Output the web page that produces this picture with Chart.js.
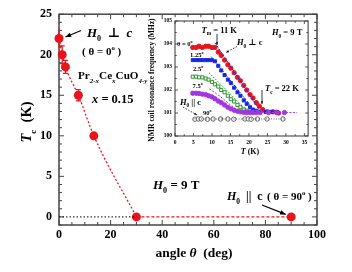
<!DOCTYPE html>
<html>
<head>
<meta charset="utf-8">
<script src="https://cdn.jsdelivr.net/npm/chart.js@4.4.1/dist/chart.umd.min.js"></script>
<style>
html, body { margin: 0; padding: 0; background: #fff; }
#wrap { position: relative; width: 352px; height: 272px; }
#main { position: absolute; left: 0; top: 0; }
#inset { position: absolute; left: 160px; top: 12px; }
</style>
</head>
<body>
<div id="wrap">
<canvas id="main" width="352" height="272"></canvas>
<canvas id="inset" width="153" height="150"></canvas>
</div>
<script>
// main panel: Tc vs field angle
const angleDeg = [0, 1.25, 2.5, 7.5, 13.5, 30, 90];
const tcK = [22, 20, 18.5, 15, 10, 0, 0];
const tcErr = [1.2, 1.1, 0.8, 0.7, 0.35, 0, 0];

// inset: NMR coil frequency vs T
const tRed = [4.8, 5.7, 6.5, 7.4, 8.3, 9.1, 10.0, 10.8, 11.7, 12.5, 13.4, 14.3, 15.1, 16.0, 16.9, 17.7, 18.6, 19.4, 20.3, 21.1, 22.0, 22.8, 23.7, 25.0, 26.5, 28.0];
const fRed = [103.85, 103.85, 103.9, 103.85, 103.9, 103.9, 103.85, 103.85, 103.65, 103.5, 103.3, 103.1, 102.95, 102.75, 102.55, 102.4, 102.2, 102.0, 101.8, 101.65, 101.45, 101.3, 101.15, 101.05, 101.05, 101.0];
const tBlue = [4.8, 5.7, 6.5, 7.4, 8.3, 9.1, 10.0, 10.8, 11.7, 12.5, 13.4, 14.3, 15.1, 16.0, 16.9, 17.7, 18.6, 19.4, 20.3, 21.1, 22.0, 23.0, 24.5, 26.0, 27.5];
const fBlue = [103.3, 103.3, 103.3, 103.3, 103.3, 103.3, 103.3, 103.25, 103.05, 102.85, 102.65, 102.45, 102.3, 102.1, 101.9, 101.75, 101.55, 101.4, 101.25, 101.15, 101.1, 101.05, 101.05, 101.05, 101.05];
const tGreen = [4.8, 5.7, 6.5, 7.4, 8.3, 9.1, 10.0, 10.8, 11.7, 12.5, 13.4, 14.3, 15.1, 16.0, 16.9, 17.7, 18.6, 19.4, 20.3, 21.1, 22.0, 23.0];
const fGreen = [102.58, 102.58, 102.55, 102.55, 102.5, 102.45, 102.35, 102.25, 102.15, 102.0, 101.9, 101.75, 101.6, 101.5, 101.35, 101.25, 101.15, 101.1, 101.05, 101.05, 101.05, 101.05];
const tPurple = [4.8, 5.7, 6.5, 7.4, 8.3, 9.1, 10.0, 10.8, 11.7, 12.5, 13.4, 14.3, 15.1, 16.0, 16.9, 17.7, 18.6, 19.4, 20.3, 21.1, 22.0, 23.0, 25.3, 27.5, 29.6];
const fPurple = [101.86, 101.86, 101.85, 101.82, 101.8, 101.75, 101.7, 101.62, 101.52, 101.45, 101.35, 101.25, 101.18, 101.12, 101.08, 101.05, 101.03, 101.02, 101.02, 101.02, 101.02, 101.02, 101.02, 101.02, 101.02];
const tGray = [5.4, 6.3, 7.1, 8.8, 10.3, 12.3, 14.3, 15.9, 18.9, 19.8, 20.6, 22.3, 24.9, 29.2];
const fGray = [100.73, 100.74, 100.74, 100.73, 100.74, 100.74, 100.74, 100.73, 100.74, 100.74, 100.73, 100.74, 100.74, 100.74];

// guide lines in the inset
const guideRedT = [10.8, 23.2], guideRedF = [104.05, 101.05];
const guideBlueT = [9.8, 21.8], guideBlueF = [103.45, 101.05];
const guideGreenT = [9.2, 19.8], guideGreenF = [102.75, 101.05];
const guidePurpleT = [9.3, 12, 15, 17, 18.5, 20, 33], guidePurpleF = [102.05, 101.75, 101.35, 101.12, 101.05, 101.02, 101.02];
const guideGrayT = [5, 30], guideGrayF = [100.74, 100.74];

const FAM = '"Liberation Serif", "DejaVu Serif", serif';
const RED = '#e8141c', BLUE = '#1428e0', GREEN = '#1a8c1a', PURPLE = '#a236e0', GRAY = '#555';

const pts = (xs, ys) => xs.map((v, i) => ({ x: v, y: ys[i] }));

function richWidth(ctx, parts, size) {
  let w = 0;
  for (const p of parts) {
    const s = (p.sub || p.sup) ? size * 0.62 : size;
    ctx.font = (p.it ? 'italic ' : '') + 'bold ' + s + 'px ' + FAM;
    w += ctx.measureText(p.t).width;
  }
  return w;
}
function richText(ctx, x, y, parts, size, center) {
  ctx.textAlign = 'left';
  ctx.textBaseline = 'alphabetic';
  ctx.fillStyle = '#000';
  let cx = center ? x - richWidth(ctx, parts, size) / 2 : x;
  for (const p of parts) {
    const s = (p.sub || p.sup) ? size * 0.62 : size;
    ctx.font = (p.it ? 'italic ' : '') + 'bold ' + s + 'px ' + FAM;
    const dy = p.sub ? size * 0.32 : p.sup ? -size * 0.42 : 0;
    ctx.fillText(p.t, cx, y + dy);
    cx += ctx.measureText(p.t).width;
  }
}
function arrow(ctx, x1, y1, x2, y2, head, dash, lw) {
  ctx.save();
  ctx.strokeStyle = '#000';
  ctx.fillStyle = '#000';
  ctx.lineWidth = lw;
  ctx.setLineDash(dash || []);
  ctx.beginPath();
  ctx.moveTo(x1, y1);
  ctx.lineTo(x2, y2);
  ctx.stroke();
  ctx.setLineDash([]);
  const a = Math.atan2(y2 - y1, x2 - x1);
  ctx.beginPath();
  ctx.moveTo(x2, y2);
  ctx.lineTo(x2 - head * Math.cos(a - 0.38), y2 - head * Math.sin(a - 0.38));
  ctx.lineTo(x2 - head * Math.cos(a + 0.38), y2 - head * Math.sin(a + 0.38));
  ctx.closePath();
  ctx.fill();
  ctx.restore();
}
function drawFrame(chart, o) {
  const { ctx, chartArea: a, scales: { x, y } } = chart;
  ctx.save();
  ctx.strokeStyle = o.color;
  ctx.lineWidth = o.lw;
  ctx.strokeRect(a.left, a.top, a.right - a.left, a.bottom - a.top);
  ctx.lineWidth = o.tw;
  ctx.beginPath();
  const n1 = Math.ceil(x.min / o.xMinor - 1e-9), n2 = Math.floor(x.max / o.xMinor + 1e-9);
  for (let i = n1; i <= n2; i++) {
    const v = i * o.xMinor;
    const major = Math.abs(v / o.xMajor - Math.round(v / o.xMajor)) < 1e-6;
    const L = major ? o.major : o.minor;
    const px = x.getPixelForValue(v);
    ctx.moveTo(px, a.bottom); ctx.lineTo(px, a.bottom - L);
    ctx.moveTo(px, a.top); ctx.lineTo(px, a.top + L);
  }
  const m1 = Math.ceil(y.min / o.yMinor - 1e-9), m2 = Math.floor(y.max / o.yMinor + 1e-9);
  for (let i = m1; i <= m2; i++) {
    const v = i * o.yMinor;
    const major = Math.abs(v / o.yMajor - Math.round(v / o.yMajor)) < 1e-6;
    const L = major ? o.major : o.minor;
    const py = y.getPixelForValue(v);
    ctx.moveTo(a.left, py); ctx.lineTo(a.left + L, py);
    ctx.moveTo(a.right, py); ctx.lineTo(a.right - L, py);
  }
  ctx.stroke();
  ctx.restore();
}

// ---------- main chart ----------
const mainPlugin = {
  id: 'mainDeco',
  beforeDatasetsDraw(chart) {
    drawFrame(chart, { color: '#444', lw: 1.5, tw: 1, xMajor: 20, xMinor: 5, yMajor: 5, yMinor: 1, major: 5, minor: 3 });
    const { ctx, scales: { x, y } } = chart;
    ctx.save();
    ctx.strokeStyle = RED;
    ctx.lineWidth = 1.2;
    ctx.beginPath();
    angleDeg.forEach((a, i) => {
      if (!tcErr[i]) return;
      const px = x.getPixelForValue(a);
      const y1 = y.getPixelForValue(tcK[i] + tcErr[i]), y2 = y.getPixelForValue(tcK[i] - tcErr[i]);
      ctx.moveTo(px, y1); ctx.lineTo(px, y2);
      if (i > 0) {
        ctx.moveTo(px - 2.5, y1); ctx.lineTo(px + 2.5, y1);
        ctx.moveTo(px - 2.5, y2); ctx.lineTo(px + 2.5, y2);
      }
    });
    ctx.stroke();
    ctx.restore();
  },
  afterDraw(chart) {
    const { ctx, scales: { x, y } } = chart;
    // axis titles
    richText(ctx, 194, 257, [{ t: 'angle ' }, { t: 'θ', it: true }, { t: '  (deg)' }], 13.5, true);
    ctx.save();
    ctx.translate(31, 122);
    ctx.rotate(-Math.PI / 2);
    richText(ctx, 0, 0, [{ t: 'T', it: true }, { t: 'c', sub: true }, { t: '  (K)' }], 14.5, true);
    ctx.restore();
    // inset y title sits left of the inset canvas
    ctx.save();
    ctx.translate(154, 80);
    ctx.rotate(-Math.PI / 2);
    richText(ctx, 0, 0, [{ t: 'NMR coil resonance frequency (MHz)' }], 7.6, true);
    ctx.restore();

    // annotations
    arrow(ctx, 81, 30.5, x.getPixelForValue(angleDeg[0]) + 6.5, y.getPixelForValue(tcK[0]) - 1.5, 6, null, 1.2);
    richText(ctx, 87, 37, [{ t: 'H', it: true }, { t: '0', sub: true }, { t: '  ⊥  ' }, { t: 'c', it: true }], 13);
    richText(ctx, 82, 55, [{ t: '( θ = 0' }, { t: 'o', sup: true }, { t: ' )' }], 11);
    richText(ctx, 78, 79, [{ t: 'Pr' }, { t: '2-x', sub: true, it: true }, { t: 'Ce' }, { t: 'x', sub: true, it: true }, { t: 'CuO' }, { t: '4-y', sub: true, it: true }], 11.2);
    richText(ctx, 92, 103, [{ t: 'x', it: true }, { t: ' = 0.15' }], 12.5);
    richText(ctx, 153, 189, [{ t: 'H', it: true }, { t: '0', sub: true }, { t: ' = 9 T' }], 13);
    richText(ctx, 227, 200, [{ t: 'H', it: true }, { t: '0', sub: true }, { t: '  ||  c' }], 12);
    richText(ctx, 267, 200, [{ t: '( θ = 90' }, { t: 'o', sup: true }, { t: ' )' }], 11);
    arrow(ctx, 262, 205, x.getPixelForValue(angleDeg[6]) - 5.5, y.getPixelForValue(tcK[6]) - 2.5, 6, null, 1.2);
  }
};

new Chart(document.getElementById('main'), {
  type: 'scatter',
  data: {
    datasets: [
      { data: pts(angleDeg.slice(0, 6), tcK.slice(0, 6)), showLine: true, cubicInterpolationMode: 'monotone',
        borderColor: RED, borderWidth: 1.3, borderDash: [2, 2], pointRadius: 0, clip: false },
      { data: pts(angleDeg.slice(5), tcK.slice(5)), showLine: true, borderColor: RED, borderWidth: 1.3,
        borderDash: [3, 2], pointRadius: 0, clip: false },
      { data: pts([angleDeg[0], angleDeg[5]], [tcK[5], tcK[5]]), showLine: true, borderColor: '#000', borderWidth: 1,
        borderDash: [1.5, 2], pointRadius: 0, clip: false },
      { data: pts(angleDeg, tcK), showLine: false, pointRadius: 4.5, backgroundColor: RED, borderColor: RED, borderWidth: 0, clip: false }
    ]
  },
  options: {
    responsive: false,
    animation: false,
    events: [],
    plugins: { legend: { display: false }, tooltip: { enabled: false } },
    layout: { padding: { left: 0, top: 12, right: 35, bottom: 0 } },
    scales: {
      x: {
        type: 'linear', min: 0, max: 100,
        grid: { display: false, drawTicks: false }, border: { display: false },
        ticks: { stepSize: 20, autoSkip: false, maxRotation: 0, padding: 3, color: '#000', font: { family: FAM, size: 12, weight: 'bold' } },
        afterFit(s) { s.height = 47; }
      },
      y: {
        type: 'linear', min: -1, max: 25,
        grid: { display: false, drawTicks: false }, border: { display: false },
        ticks: { stepSize: 5, includeBounds: false, padding: 7, color: '#000', font: { family: FAM, size: 12, weight: 'bold' } },
        afterFit(s) { s.width = 59; }
      }
    }
  },
  plugins: [mainPlugin]
});

// ---------- inset ----------
const OX = 160, OY = 12;
const insetPlugin = {
  id: 'insetDeco',
  beforeDatasetsDraw(chart) {
    drawFrame(chart, { color: '#333', lw: 1, tw: 0.8, xMajor: 5, xMinor: 2.5, yMajor: 1, yMinor: 0.5, major: 3, minor: 1.8 });
  },
  afterDraw(chart) {
    const { ctx } = chart;
    ctx.save();
    ctx.translate(-OX, -OY);
    richText(ctx, 250, 154, [{ t: 'T', it: true }, { t: ' (K)' }], 8, true);
    richText(ctx, 201.5, 32.5, [{ t: 'T', it: true }, { t: 'm', sub: true }, { t: ' = 11 K' }], 8.5);
    arrow(ctx, 217, 34, 217, 45, 3, null, 0.8);
    richText(ctx, 177, 45.5, [{ t: 'θ = 0' }, { t: 'o', sup: true }], 6.5);
    richText(ctx, 190, 57, [{ t: '1.25' }, { t: 'o', sup: true }], 6.5);
    richText(ctx, 193, 70.5, [{ t: '2.5' }, { t: 'o', sup: true }], 6.5);
    richText(ctx, 192.5, 88, [{ t: '7.5' }, { t: 'o', sup: true }], 6.5);
    richText(ctx, 180, 104.5, [{ t: 'H', it: true }, { t: '0', sub: true }, { t: ' || c' }], 8.5);
    arrow(ctx, 183, 107, 197, 115, 3, [1.5, 1.5], 0.8);
    richText(ctx, 203, 114.5, [{ t: '90' }, { t: 'o', sup: true }], 6.5);
    richText(ctx, 237, 45, [{ t: 'H', it: true }, { t: '0', sub: true }, { t: ' ⊥ c' }], 8.5);
    arrow(ctx, 237, 46.5, 226, 52.5, 3, [1.5, 1.5], 0.8);
    richText(ctx, 272, 35, [{ t: 'H', it: true }, { t: '0', sub: true }, { t: ' = 9 T' }], 8.5);
    richText(ctx, 265, 91, [{ t: 'T', it: true }, { t: 'c', sub: true }, { t: ' = 22 K' }], 8.5);
    arrow(ctx, 262, 90, 262, 104, 3, null, 0.8);
    ctx.restore();
  }
};

const guide = (xs, ys, color, dash) => ({ data: pts(xs, ys), showLine: true, borderColor: color, borderWidth: 1,
  borderDash: dash, pointRadius: 0, clip: false });
const series = (xs, ys, color, style, fill) => ({ data: pts(xs, ys), showLine: false, pointStyle: style,
  pointRadius: 2.2, backgroundColor: fill, borderColor: color, borderWidth: 0.9, clip: false });

new Chart(document.getElementById('inset'), {
  type: 'scatter',
  data: {
    datasets: [
      guide(guideRedT, guideRedF, BLUE, [2, 1.5]),
      guide(guideBlueT, guideBlueF, BLUE, [1.5, 1.5]),
      guide(guideGreenT, guideGreenF, GREEN, [1.5, 1.5]),
      guide(guidePurpleT, guidePurpleF, PURPLE, [2, 1.5]),
      guide(guideGrayT, guideGrayF, '#666', [1, 1.5]),
      series(tGray, fGray, GRAY, 'circle', '#fff'),
      series(tPurple, fPurple, PURPLE, 'circle', PURPLE),
      series(tGreen, fGreen, GREEN, 'rect', '#fff'),
      series(tBlue, fBlue, BLUE, 'rect', BLUE),
      series(tRed, fRed, RED, 'circle', RED)
    ]
  },
  options: {
    responsive: false,
    animation: false,
    events: [],
    plugins: { legend: { display: false }, tooltip: { enabled: false } },
    layout: { padding: { left: 0, top: 9, right: 2, bottom: 0 } },
    scales: {
      x: {
        type: 'linear', min: 0, max: 36,
        grid: { display: false, drawTicks: false }, border: { display: false },
        ticks: { stepSize: 5, includeBounds: false, autoSkip: false, maxRotation: 0, padding: 3, color: '#000', font: { family: FAM, size: 5.5, weight: 'bold' } },
        afterFit(s) { s.height = 26; }
      },
      y: {
        type: 'linear', min: 100, max: 105,
        grid: { display: false, drawTicks: false }, border: { display: false },
        ticks: { stepSize: 1, autoSkip: false, padding: 3, color: '#000', font: { family: FAM, size: 5.5, weight: 'bold' } },
        afterFit(s) { s.width = 15; }
      }
    }
  },
  plugins: [insetPlugin]
});
</script>
</body>
</html>
